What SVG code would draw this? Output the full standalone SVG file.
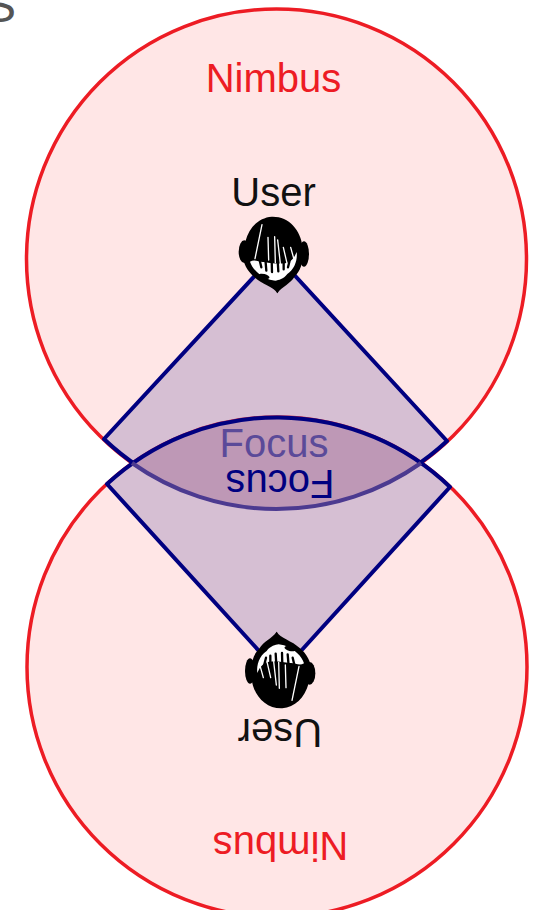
<svg xmlns="http://www.w3.org/2000/svg" width="535" height="910" viewBox="0 0 535 910">
<style>
text{font-family:"Liberation Sans",Arial,sans-serif;font-size:40px;text-anchor:middle}
.nimbus{fill:#ffe6e6;stroke:#ed1c24;stroke-width:3.500}
.sector{fill:#5b4a9a;fill-opacity:.25;stroke:#000080;stroke-width:4;stroke-linejoin:round}
.red{fill:#ed1c24}.navy{fill:#000080}.blk{fill:#111}
.w{fill:#fff}.s{fill:none;stroke:#fff;stroke-width:4;stroke-linecap:round}.k{fill:none;stroke:#000;stroke-width:7;stroke-linecap:round}
</style>
<defs>
<g id="head" transform="translate(200 160) scale(.3333)">
<ellipse cx="133" cy="275" rx="17" ry="34" fill="#000"/>
<ellipse cx="312" cy="282" rx="15" ry="38" fill="#000"/>
<path d="M215 170C265 168 302 208 308 262C312 300 303 332 285 348C270 374 247 378 232 400C222 380 186 374 162 350C134 326 118 290 136 245C148 200 178 173 215 170Z" fill="#000"/>
<path class="w" d="M150 305C165 296 178 308 192 306C215 310 235 312 255 310C270 308 282 296 290 276C293 300 284 328 262 342C250 358 236 360 226 362C205 360 182 348 170 335C160 326 154 316 150 305Z"/>
<path class="s" d="M165 296L186 194M206 300L204 232M226 308L224 230M241 310L233 240M262 314L250 262M282 298L272 262"/>
<path class="k" d="M178 296L184 322M196 296L199 332M215 296L216 336M233 300L235 334M251 304L251 328M270 298L264 322"/>
<ellipse cx="192" cy="349" rx="17" ry="7" fill="#000" transform="rotate(15 192 349)"/>
<path d="M216 364L248 364L232 400Z" fill="#000"/>
</g>
</defs>
<rect width="535" height="910" fill="#fff"/>
<text x="0" y="22" style="fill:#555;font-size:48px">S</text>
<g id="connectors"></g>
<g id="user-top-nimbus"><circle class="nimbus" cx="276.500" cy="259" r="250"/><text class="red" x="273.500" y="92">Nimbus</text></g>
<g id="user-bottom-nimbus"><circle class="nimbus" cx="277" cy="667" r="250"/><text class="red" transform="translate(280.500 832) rotate(180)">Nimbus</text></g>
<g id="user-top-focus"><path class="sector" d="M275 254L104 439A250 250 0 0 0 447 441Z"/><path d="M132 463A250 250 0 0 1 421 463A250 250 0 0 1 132 463Z" fill="#dfb2bf"/><text fill="#5b4a98" x="274" y="457">Focus</text></g>
<g id="user-bottom-focus"><path class="sector" d="M280 674L107 484A250 250 0 0 1 450 487Z"/><path d="M132 463A250 250 0 0 0 421 463" fill="none" stroke="#4c3a90" stroke-width="4"/><text class="navy" transform="translate(280 470) rotate(180)">Focus</text></g>
<g id="user-top"><use href="#head"/><text class="blk" x="273.500" y="206">User</text></g>
<g id="user-bottom"><use href="#head" transform="translate(554 925) rotate(180)"/><text class="blk" transform="translate(280 719) rotate(180)">User</text></g>
</svg>
